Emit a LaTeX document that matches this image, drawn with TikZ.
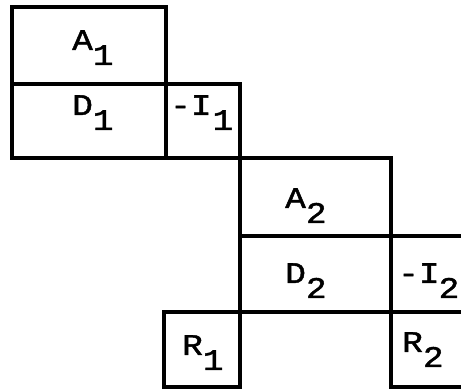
\documentclass[tikz,border=0pt]{standalone}
\usepackage{fontspec}
\newfontfamily\tw[FakeStretch=1.15,FakeBold=1.5]{Liberation Mono}
\newcommand\lowsub[1]{\raisebox{-15pt}{#1}}
\tikzset{
  rule/.style={line width=3.4pt, line cap=rect},
  lbl/.style={anchor=base west, inner sep=0pt, font=\tw\fontsize{30}{30}\selectfont}
}
\begin{document}
\begin{tikzpicture}[x=1pt,y=-1pt]
\useasboundingbox (0,0) rectangle (461,390);
% block 1
\draw[rule] (12,7) -- (166,7) -- (166,158);
\draw[rule] (12,7) -- (12,158);
\draw[rule] (12,84) -- (240,84);
\draw[rule] (240,84) -- (240,387);
\draw[rule] (12,158) -- (391,158);
% block 2
\draw[rule] (391,158) -- (391,387);
\draw[rule] (240,236) -- (461,236);
\draw[rule] (164,312) -- (461,312);
% R1
\draw[rule] (164,312) -- (164,387) -- (240,387);
% R2
\draw[rule] (391,387) -- (461,387);
% labels
\node[lbl] (a1) at (72,50) {A\lowsub{1}};
\node[lbl] (d1) at (72,115) {D\lowsub{1}};
\node[lbl] (i1) at (170,115) {-I\kern1pt\lowsub{1}};
\node[lbl] (a2) at (285,208) {A\lowsub{2}};
\node[lbl] (d2) at (285,283) {D\lowsub{2}};
\node[lbl] (i2) at (398,283) {-I\kern-1pt\lowsub{2}};
\node[lbl] (r1) at (182,355) {R\lowsub{1}};
\node[lbl] (r2) at (402,352) {R\lowsub{2}};
\end{tikzpicture}
\end{document}
